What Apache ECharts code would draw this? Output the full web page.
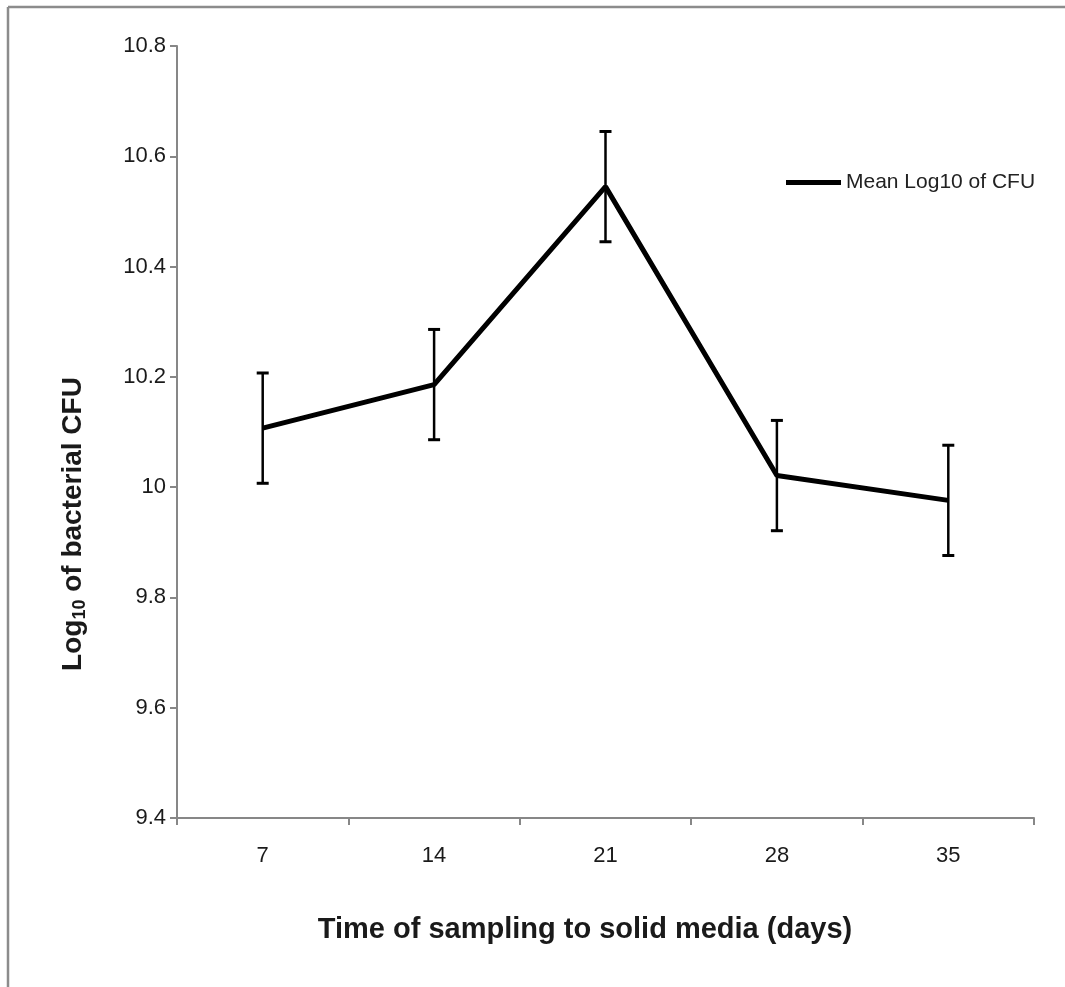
<!DOCTYPE html>
<html>
<head>
<meta charset="utf-8">
<script src="https://cdn.jsdelivr.net/npm/echarts@6/dist/echarts.min.js"></script>
<style>
  html, body { margin: 0; padding: 0; background: #ffffff; }
  #chart { width: 1065px; height: 987px; }
</style>
</head>
<body>
<div id="chart"></div>
<script>
// ---- data ----
const categories = ['7', '14', '21', '28', '35'];
const meanLog10CFU = [10.107, 10.186, 10.545, 10.021, 9.976];
const errorValues = [0.1, 0.1, 0.1, 0.1, 0.1];
const yMin = 9.4, yMax = 10.8, yStep = 0.2;
const seriesName = 'Mean Log10 of CFU';
const xTitle = 'Time of sampling to solid media (days)';

const errorData = meanLog10CFU.map((m, i) => [i, m - errorValues[i], m + errorValues[i]]);

const axisGrey = '#878787';
const tickFont = "'Liberation Sans', Arial, sans-serif";
const mainFont = "'Liberation Sans', Arial, sans-serif";

const chart = echarts.init(document.getElementById('chart'), null, { renderer: 'canvas' });

chart.setOption({
  backgroundColor: '#ffffff',
  animation: false,
  grid: { left: 177, right: 31, top: 46, bottom: 169, containLabel: false },
  legend: {
    data: [{ name: seriesName, icon: 'rect' }],
    left: 781,
    top: 167,
    itemWidth: 55,
    itemHeight: 5,
    textStyle: { fontFamily: mainFont, fontSize: 21, color: '#222222' },
    selectedMode: false
  },
  xAxis: {
    type: 'category',
    data: categories,
    boundaryGap: true,
    axisLine: { lineStyle: { color: axisGrey, width: 2 } },
    axisTick: { show: true, length: 7, inside: false, lineStyle: { color: axisGrey, width: 2 } },
    axisLabel: { fontFamily: tickFont, fontSize: 22, color: '#1a1a1a', margin: 27 },
    splitLine: { show: false }
  },
  yAxis: {
    type: 'value',
    min: yMin,
    max: yMax,
    interval: yStep,
    axisLine: { show: true, lineStyle: { color: axisGrey, width: 2 } },
    axisTick: { show: true, length: 7, inside: false, lineStyle: { color: axisGrey, width: 2 } },
    axisLabel: {
      fontFamily: tickFont, fontSize: 22, color: '#1a1a1a', margin: 11,
      formatter: v => String(Math.round(v * 10) / 10)
    },
    splitLine: { show: false }
  },
  series: [
    {
      name: seriesName,
      type: 'line',
      data: meanLog10CFU,
      symbol: 'none',
      lineStyle: { color: '#000000', width: 5 },
      itemStyle: { color: '#000000' },
      z: 3
    },
    {
      name: 'error',
      type: 'custom',
      data: errorData,
      z: 4,
      renderItem: function (params, api) {
        const xi = api.value(0);
        const lo = api.coord([xi, api.value(1)]);
        const hi = api.coord([xi, api.value(2)]);
        const hw = 6;
        const st = { stroke: '#000000', lineWidth: 2.5 };
        return {
          type: 'group',
          children: [
            { type: 'line', shape: { x1: lo[0], y1: lo[1], x2: hi[0], y2: hi[1] }, style: st },
            { type: 'line', shape: { x1: hi[0] - hw, y1: hi[1], x2: hi[0] + hw, y2: hi[1] }, style: { stroke: '#000', lineWidth: 3 } },
            { type: 'line', shape: { x1: lo[0] - hw, y1: lo[1], x2: lo[0] + hw, y2: lo[1] }, style: { stroke: '#000', lineWidth: 3 } }
          ]
        };
      }
    }
  ],
  graphic: [
    { type: 'line', shape: { x1: 8, y1: 7, x2: 1065, y2: 7 }, style: { stroke: '#8c8c8c', lineWidth: 2.5 } },
    { type: 'line', shape: { x1: 8, y1: 7, x2: 8, y2: 987 }, style: { stroke: '#8c8c8c', lineWidth: 2.5 } },
    {
      type: 'text',
      x: 585, y: 930,
      style: {
        text: xTitle,
        fontFamily: mainFont, fontSize: 29, fontWeight: 'bold', fill: '#1a1a1a',
        align: 'center', verticalAlign: 'middle'
      }
    },
    {
      type: 'text',
      x: 70, y: 524,
      rotation: Math.PI / 2,
      style: {
        text: '{a|Log}{s|10}{a| of bacterial CFU}',
        align: 'center', verticalAlign: 'middle',
        rich: {
          a: { fontFamily: mainFont, fontSize: 28, fontWeight: 'bold', fill: '#1a1a1a', verticalAlign: 'bottom', lineHeight: 34 },
          s: { fontFamily: mainFont, fontSize: 18, fontWeight: 'bold', fill: '#1a1a1a', verticalAlign: 'bottom', lineHeight: 34, padding: [0, 0, -2, 0] }
        }
      }
    }
  ]
});
</script>
</body>
</html>
